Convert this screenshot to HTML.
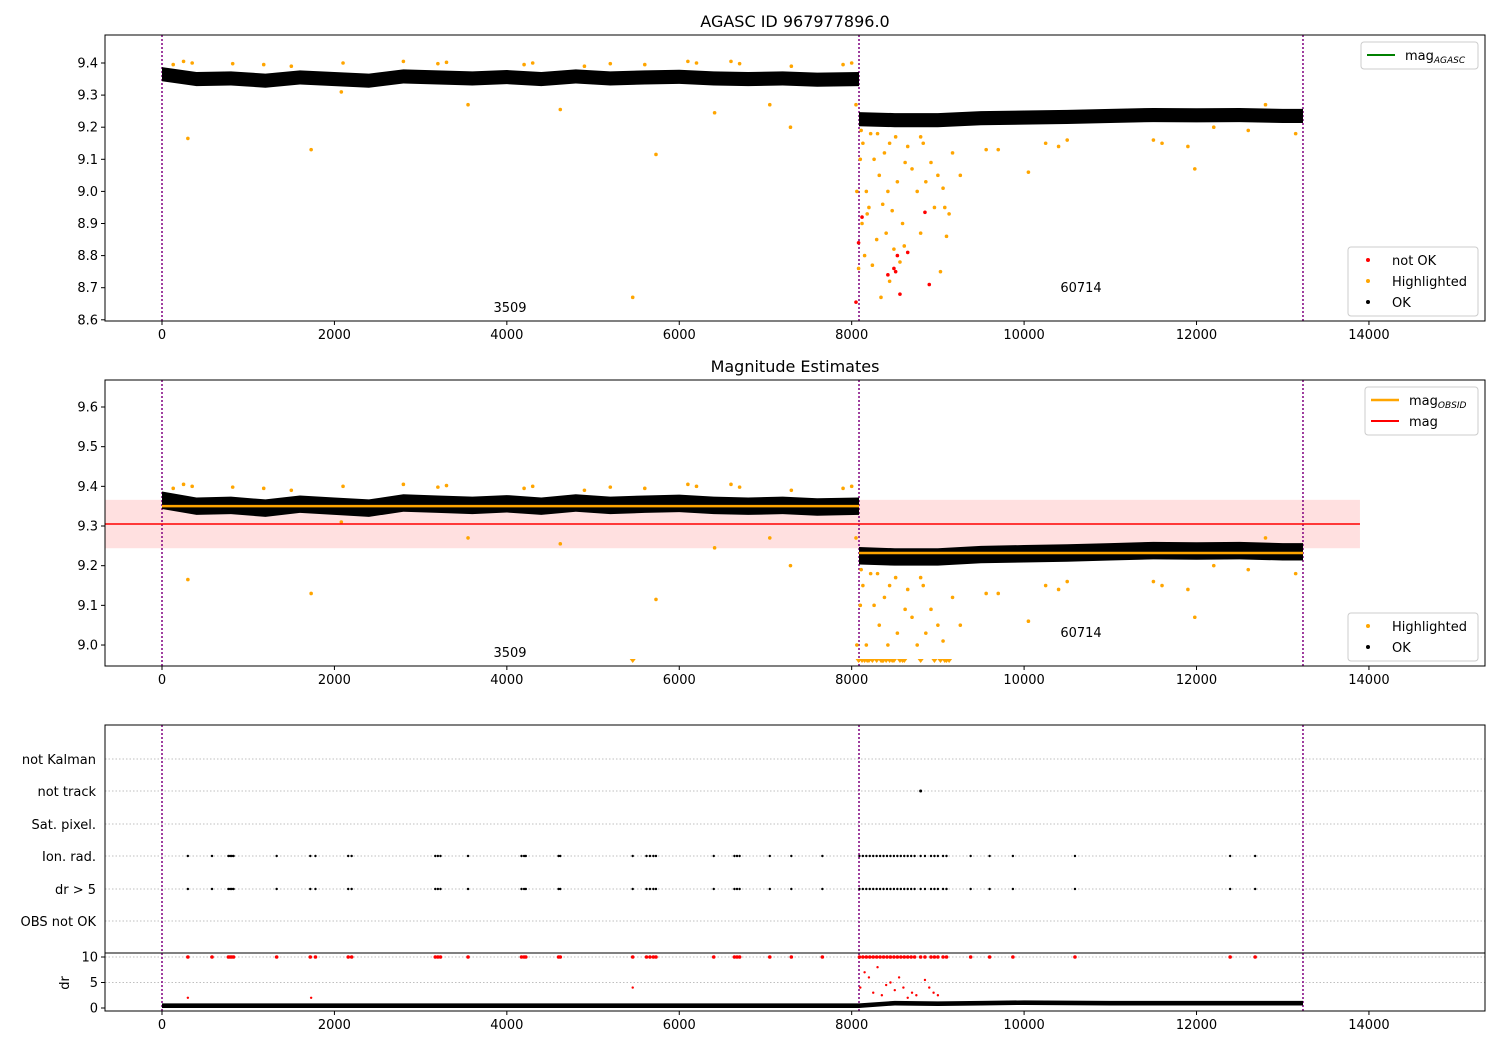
<!DOCTYPE html>
<html><head><meta charset="utf-8"><style>
html,body{margin:0;padding:0;background:#fff;}
svg{display:block;font-family:"DejaVu Sans","Liberation Sans",sans-serif;}
</style></head><body>
<svg id="fig" width="1500" height="1050" viewBox="0 0 1500 1050" xmlns="http://www.w3.org/2000/svg"></svg>
<script>
// ---- data ----
const xTicks=[0,2000,4000,6000,8000,10000,12000,14000];
const y1Ticks=[8.6,8.7,8.8,8.9,9.0,9.1,9.2,9.3,9.4];
const y2Ticks=[9.0,9.1,9.2,9.3,9.4,9.5,9.6];
const drTicks=[0,5,10];
const categories=["OBS not OK","dr > 5","Ion. rad.","Sat. pixel.","not track","not Kalman"];
const obsBounds=[0,8085,13235];
const bandLeftX=[0,400,800,1200,1600,2000,2400,2800,3200,3600,4000,4400,4800,5200,5600,6000,6400,6800,7200,7600,8085];
const bandLeftY=[9.365,9.35,9.352,9.345,9.355,9.35,9.345,9.358,9.355,9.352,9.356,9.35,9.358,9.352,9.355,9.357,9.352,9.35,9.352,9.348,9.35];
const bandRightX=[8085,8500,9000,9500,10000,10500,11000,11500,12000,12500,13000,13235];
const bandRightY=[9.225,9.222,9.222,9.228,9.23,9.232,9.235,9.238,9.237,9.238,9.235,9.235];
const bandHalf=0.022;
const hlX=[130,250,350,820,1180,1500,2100,2800,3200,3300,4200,4300,4900,5200,5600,6100,6200,6600,6700,7300,7900,8000,300,1730,2080,3550,4620,5460,5730,6410,7050,7290,
8050,8060,8080,8100,8120,8130,8150,8170,8200,8220,8240,8260,8290,8320,8340,8360,8380,8400,8420,8440,8470,8490,8510,8530,8560,8590,8620,8650,8700,8760,8800,8830,8860,8920,8960,9000,9060,9100,9030,9130,9170,9260,9560,9700,10050,10250,10400,10500,11500,11600,11900,11980,12800,12200,12600,13150,8110,8180,8300,8440,8610,8800,9080];
const hlY=[9.395,9.405,9.4,9.398,9.395,9.39,9.4,9.405,9.398,9.402,9.395,9.4,9.39,9.398,9.395,9.405,9.4,9.405,9.398,9.39,9.395,9.4,9.165,9.13,9.31,9.27,9.255,8.67,9.115,9.245,9.27,9.2,
9.27,9.0,8.76,9.1,8.9,9.15,8.8,9.0,8.95,9.18,8.77,9.1,8.85,9.05,8.67,8.96,9.12,8.87,9.0,9.15,8.94,8.82,9.17,9.03,8.78,8.9,9.09,9.14,9.07,9.0,8.87,9.15,9.03,9.09,8.95,9.05,9.01,8.86,8.75,8.93,9.12,9.05,9.13,9.13,9.06,9.15,9.14,9.16,9.16,9.15,9.14,9.07,9.27,9.2,9.19,9.18,9.19,8.93,9.18,8.72,8.83,9.17,8.95];
const notOkX=[8050,8080,8120,8420,8510,8560,8650,8850,8900,8490,8530];
const notOkY=[8.655,8.84,8.92,8.74,8.75,8.68,8.81,8.935,8.71,8.76,8.8];
const flagX=[300,580,770,790,810,830,1330,1720,1780,2160,2200,3170,3200,3230,3550,4170,4200,4220,4600,4620,5460,5620,5660,5700,5730,6400,6640,6670,6700,7050,7300,7660,8090,8130,8170,8210,8250,8290,8330,8370,8410,8450,8490,8530,8570,8610,8650,8690,8730,8800,8850,8920,8960,9000,9060,9100,9380,9600,9870,10590,12390,12680];
const notTrackX=[8800];
const magObsid=[9.35,9.232];
const magMean=9.305, magStd=0.061;
const drBandX=[0,2000,4000,6000,8085,8500,9000,9500,10000,11000,12000,13235];
const drBandY=[0.4,0.4,0.4,0.4,0.4,0.9,0.8,0.9,1.0,0.9,0.9,0.9];
const drScatX=[8100,8150,8200,8250,8300,8350,8400,8450,8500,8550,8600,8650,8700,8750,8850,8900,8950,9000,1730,300,5460];
const drScatY=[4,7,6,3,8,2.5,4.5,5,3.5,6,4,2,3,2.5,5.5,4,3,2.5,2,2,4];

// ---- scales ----
const X=v=>162+v*0.08621;
const Y1=v=>63+(9.4-v)*321;
const Y2=v=>407+(9.6-v)*396.7;
const YD=v=>1008-v*5.1;
const catY=[921,889,856,824,791,759];
const svg=document.getElementById('fig');
const NS='http://www.w3.org/2000/svg';
function el(tag,attrs,parent){const e=document.createElementNS(NS,tag);for(const k in attrs)e.setAttribute(k,attrs[k]);(parent||svg).appendChild(e);return e;}
function txt(s,attrs,parent){const e=el('text',attrs,parent);e.textContent=s;return e;}

function clipFor(id,y0,y1){const cp=el('clipPath',{id:id});el('rect',{x:105,y:y0,width:1380,height:y1-y0},cp);}
clipFor('c1',35,321);clipFor('c2',380,666);clipFor('c3',725,1011);

function xAxis(yb){
  for(const t of xTicks){const g=el('g',{});
    
    
    el('line',{x1:X(t),x2:X(t),y1:yb,y2:yb+4,stroke:'#000'},g);
    txt(String(t),{x:X(t),y:yb+18,'text-anchor':'middle','font-size':13},g);}
}
function yTicks(ticks,f,fmt){for(const t of ticks){const g=el('g',{});
  
  
  el('line',{x1:101,x2:105,y1:f(t),y2:f(t),stroke:'#000'},g);
  txt(fmt(t),{x:98,y:f(t)+4.5,'text-anchor':'end','font-size':13},g);}}
function vlines(y0,y1,g){for(const b of obsBounds){const l=el('line',{x1:X(b),x2:X(b),y1:y0,y2:y1,stroke:'#800080','stroke-width':1.5,'stroke-dasharray':'2,2'},g);
  
  }}
function band(g,f,xs,ys){let p=[];for(let i=0;i<xs.length;i++)p.push(X(xs[i])+','+f(ys[i]+bandHalf));
  for(let i=xs.length-1;i>=0;i--)p.push(X(xs[i])+','+f(ys[i]-bandHalf));
  const b=el('polygon',{points:p.join(' '),fill:'#000'},g);
  
  }
function dots(g,xs,ys,f,col,r,name,tri,ymin){for(let i=0;i<xs.length;i++){
  let d;
  if(tri&&ys[i]<ymin){const cx=X(xs[i]),cy=663;d=el('polygon',{points:(cx-3)+','+(cy-4)+' '+(cx+3)+','+(cy-4)+' '+cx+','+cy,fill:col},g);}
  else d=el('circle',{cx:X(xs[i]),cy:f(ys[i]),r:r,fill:col},g);
  
  }}

// ---- panel 1 ----
txt('AGASC ID 967977896.0',{x:795,y:27,'text-anchor':'middle','font-size':16});
const g1=el('g',{'clip-path':'url(#c1)'});


vlines(35,321,g1);
band(g1,Y1,bandLeftX,bandLeftY);band(g1,Y1,bandRightX,bandRightY);
dots(g1,hlX,hlY,Y1,'orange',1.8,'highlighted-point');
dots(g1,notOkX,notOkY,Y1,'red',1.8,'not-ok-point');
txt('3509',{x:510,y:312,'text-anchor':'middle','font-size':13},g1);
txt('60714',{x:1081,y:292,'text-anchor':'middle','font-size':13},g1);
el('rect',{x:105,y:35,width:1380,height:286,fill:'none',stroke:'#000'});
xAxis(321);yTicks(y1Ticks,Y1,t=>t.toFixed(1));

// legend helper
function legend(x,y,w,items,name){const g=el('g',{});
  
  
  el('rect',{x:x,y:y,width:w,height:items.length*21+6,rx:3,fill:'#fff','fill-opacity':0.85,stroke:'#ccc'},g);
  items.forEach((it,i)=>{const cy=y+13+i*21;
    if(it.type=='line')el('line',{x1:x+6,x2:x+34,y1:cy,y2:cy,stroke:it.c,'stroke-width':it.w||2},g);
    else el('circle',{cx:x+20,cy:cy,r:2,fill:it.c},g);
    const t=txt(it.l,{x:x+44,y:cy+5,'font-size':13},g);
    if(it.sub){const s=el('tspan',{'font-size':9,'font-style':'italic',dy:3},t);s.textContent=it.sub;}
  });}
legend(1361,42,117,[{type:'line',c:'green',l:'mag',sub:'AGASC'}],'legend-top');
legend(1348,247,130,[{type:'dot',c:'red',l:'not OK'},{type:'dot',c:'orange',l:'Highlighted'},{type:'dot',c:'#000',l:'OK'}],'legend-points');

// ---- panel 2 ----
txt('Magnitude Estimates',{x:795,y:372,'text-anchor':'middle','font-size':16});
const g2=el('g',{'clip-path':'url(#c2)'});


const sb=el('rect',{x:105,y:Y2(magMean+magStd),width:X(13896)-105,height:Y2(magMean-magStd)-Y2(magMean+magStd),fill:'#ff0000','fill-opacity':0.12},g2);


vlines(380,666,g2);
band(g2,Y2,bandLeftX,bandLeftY);band(g2,Y2,bandRightX,bandRightY);
dots(g2,hlX,hlY,Y2,'orange',1.8,'highlighted-point',true,8.96);
for(let i=0;i<magObsid.length;i++){const l=el('line',{x1:X(obsBounds[i]),x2:X(obsBounds[i+1]),y1:Y2(magObsid[i]),y2:Y2(magObsid[i]),stroke:'orange','stroke-width':2.5},g2);
  
  }
const ml=el('line',{x1:105,x2:X(13896),y1:Y2(magMean),y2:Y2(magMean),stroke:'red','stroke-width':1.5},g2);


txt('3509',{x:510,y:657,'text-anchor':'middle','font-size':13},g2);
txt('60714',{x:1081,y:637,'text-anchor':'middle','font-size':13},g2);
el('rect',{x:105,y:380,width:1380,height:286,fill:'none',stroke:'#000'});
xAxis(666);yTicks(y2Ticks,Y2,t=>t.toFixed(1));
legend(1365,387,113,[{type:'line',c:'orange',l:'mag',sub:'OBSID',w:2.5},{type:'line',c:'red',l:'mag'}],'legend-mag');
legend(1348,613,130,[{type:'dot',c:'orange',l:'Highlighted'},{type:'dot',c:'#000',l:'OK'}],'legend-points-2');

// ---- panel 3 ----
const g3=el('g',{'clip-path':'url(#c3)'});


catY.forEach(y=>el('line',{x1:105,x2:1485,y1:y,y2:y,stroke:'#aaa','stroke-width':0.8,'stroke-dasharray':'1.5,2'},g3));
[5,10].forEach(v=>el('line',{x1:105,x2:1485,y1:YD(v),y2:YD(v),stroke:'#aaa','stroke-width':0.8,'stroke-dasharray':'1.5,2'},g3));
vlines(725,1011,g3);
dots(g3,flagX,flagX.map(()=>0),()=>856,'#000',1.2,'ion-rad-flag');
dots(g3,flagX,flagX.map(()=>0),()=>889,'#000',1.2,'dr-gt-5-flag');
dots(g3,notTrackX,[0],()=>791,'#000',1.5,'not-track-flag');
dots(g3,flagX,flagX.map(()=>10),YD,'red',1.8,'dr-clipped-point');
dots(g3,drScatX,drScatY,YD,'red',1.2,'dr-point');
let p=[];for(let i=0;i<drBandX.length;i++)p.push(X(drBandX[i])+','+YD(drBandY[i]+0.5));
for(let i=drBandX.length-1;i>=0;i--)p.push(X(drBandX[i])+','+YD(Math.max(0,drBandY[i]-0.4)));
const db=el('polygon',{points:p.join(' '),fill:'#000'},g3);


el('rect',{x:105,y:725,width:1380,height:286,fill:'none',stroke:'#000'});
el('line',{x1:105,x2:1485,y1:953,y2:953,stroke:'#000'});
categories.forEach((c,i)=>{const t=txt(c,{x:96,y:catY[i]+5,'text-anchor':'end','font-size':13});
  
  });
yTicks(drTicks,YD,t=>String(t));
txt('dr',{x:0,y:0,'text-anchor':'middle','font-size':13,transform:'translate(69,983) rotate(-90)'});
xAxis(1011);
</script>
</body></html>
